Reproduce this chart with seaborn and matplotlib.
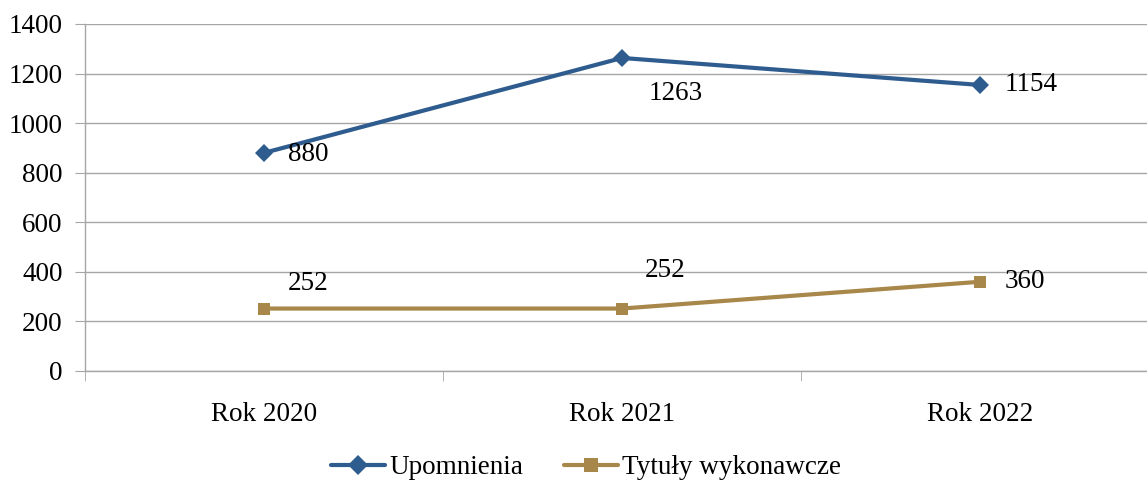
import seaborn as sns
import matplotlib.pyplot as plt
import pandas as pd

# ---- Data ----
years = ["Rok 2020", "Rok 2021", "Rok 2022"]
upomnienia = [880, 1263, 1154]
tytuly = [252, 252, 360]
series_names = ["Upomnienia", "Tytuły wykonawcze"]

df = pd.DataFrame({
    "Rok": years * 2,
    "Liczba": upomnienia + tytuly,
    "Seria": [series_names[0]] * 3 + [series_names[1]] * 3,
})

# ---- Visualization ----
sns.set_style("white")
plt.rcParams["font.family"] = ["Liberation Serif", "DejaVu Serif"]
plt.rcParams["text.color"] = "black"
plt.rcParams["xtick.color"] = "black"
plt.rcParams["ytick.color"] = "black"
FS = 19.5

fig = plt.figure(figsize=(11.47, 4.92), dpi=100)
ax = fig.add_axes([85 / 1147, 1 - 371 / 492, (1159 - 85) / 1147, 347 / 492])

colors = ["#2F5C8F", "#A8874A"]
sns.lineplot(data=df, x="Rok", y="Liczba", hue="Seria", style="Seria",
             markers={"Upomnienia": "D", "Tytuły wykonawcze": "s"}, dashes=False,
             palette=colors, linewidth=3, markersize=9, markeredgewidth=0, ax=ax)

ax.set_xlim(-0.5, 2.5)
ax.set_ylim(0, 1400)
ax.set_yticks(range(0, 1401, 200))
ax.set_xlabel("")
ax.set_ylabel("")
ax.grid(axis="y", color="#A6A6A6", linewidth=1)
ax.set_axisbelow(True)
for side in ["top", "right"]:
    ax.spines[side].set_visible(False)
for side in ["left", "bottom"]:
    ax.spines[side].set_color("#A6A6A6")
    ax.spines[side].set_linewidth(1)

ax.tick_params(axis="y", length=7, color="#A6A6A6", labelcolor="black", labelsize=FS, pad=9, left=True)
ax.tick_params(axis="x", which="major", length=0, labelcolor="black", labelsize=FS, pad=22)
ax.set_xticks([-0.5, 0.5, 1.5], minor=True)
ax.tick_params(axis="x", which="minor", length=7, color="#A6A6A6", bottom=True)

# data labels (offsets in points)
px = 0.72
label_offsets = {
    ("Upomnienia", 0): (24, -2), ("Upomnienia", 1): (27, -36), ("Upomnienia", 2): (25, 0),
    ("Tytuły wykonawcze", 0): (24, 25), ("Tytuły wykonawcze", 1): (23, 38),
    ("Tytuły wykonawcze", 2): (25, 0),
}
for name, vals in zip(series_names, [upomnienia, tytuly]):
    for i, v in enumerate(vals):
        dx, dy = label_offsets[(name, i)]
        ax.annotate(str(v), (i, v), xytext=(dx * px, dy * px), textcoords="offset points",
                    ha="left", va="center", fontsize=FS, color="black")

handles, labels = ax.get_legend_handles_labels()
ax.legend(handles, labels, loc="center", bbox_to_anchor=(586 / 1147, 1 - 468 / 492),
          bbox_transform=fig.transFigure, labelcolor="black",
          ncol=2, frameon=False, fontsize=FS, handlelength=2.0, handletextpad=0.15,
          columnspacing=1.5, markerscale=1.1)

# ---- Save output ----
fig.savefig("out.png", dpi=100)
plt.close(fig)
